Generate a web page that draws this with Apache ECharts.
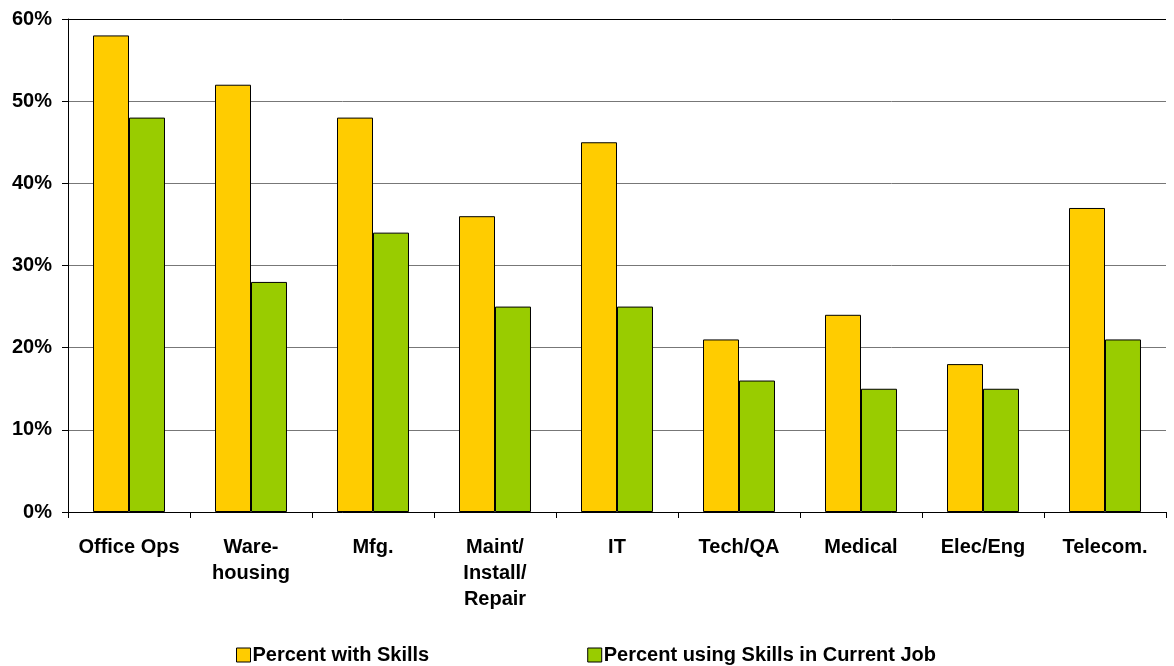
<!DOCTYPE html>
<html>
<head>
<meta charset="utf-8">
<script src="https://cdn.jsdelivr.net/npm/echarts@6/dist/echarts.min.js"></script>
<style>html,body{margin:0;padding:0;background:#fff;}#c{width:1174px;height:666px;}</style>
</head>
<body>
<div id="c"></div>
<script>
const categories = ['Office Ops', 'Ware-\nhousing', 'Mfg.', 'Maint/\nInstall/\nRepair', 'IT', 'Tech/QA', 'Medical', 'Elec/Eng', 'Telecom.'];
const percentWithSkills = [58, 52, 48, 36, 45, 21, 24, 18, 37];
const percentUsingSkills = [48, 28, 34, 25, 25, 16, 15, 15, 21];
const seriesNames = ['Percent with Skills', 'Percent using Skills in Current Job'];
const yTicks = [0, 10, 20, 30, 40, 50, 60];

const font = 'Liberation Sans, Arial, sans-serif';
const chart = echarts.init(document.getElementById('c'), null, {renderer: 'canvas'});
chart.setOption({
  animation: false,
  backgroundColor: '#fff',
  grid: {left: 68, right: 8, top: 19, bottom: 154, containLabel: false},
  legend: {
    left: 231, top: 640,
    itemWidth: 14, itemHeight: 14, itemGap: 158,
    icon: 'rect',
    itemStyle: {borderColor: '#000', borderWidth: 1},
    textStyle: {fontFamily: font, fontWeight: 'bold', fontSize: 20, color: '#000', padding: [0,0,0,-3]},
    data: seriesNames
  },
  xAxis: {
    type: 'category',
    data: categories,
    axisLine: {lineStyle: {color: '#000', width: 1}},
    axisTick: {show: true, length: 6, lineStyle: {color: '#000'}},
    axisLabel: {fontFamily: font, fontWeight: 'bold', fontSize: 20, color: '#000', lineHeight: 26, margin: 22, interval: 0}
  },
  yAxis: {
    type: 'value',
    min: yTicks[0], max: yTicks[yTicks.length - 1], interval: 10,
    axisLine: {show: true, lineStyle: {color: '#000', width: 1}},
    axisTick: {show: true, length: 6, lineStyle: {color: '#000'}},
    axisLabel: {fontFamily: font, fontWeight: 'bold', fontSize: 20, color: '#000', margin: 16, formatter: v => v + '%'},
    splitLine: {show: true, lineStyle: {color: ['#777', '#777', '#777', '#777', '#777', '#777', '#000'], width: 1}}
  },
  series: [
    {
      name: seriesNames[0], type: 'bar', data: percentWithSkills,
      barCategoryGap: '41%', barGap: '0%',
      itemStyle: {color: '#FFCC00', borderColor: '#000', borderWidth: 1}
    },
    {
      name: seriesNames[1], type: 'bar', data: percentUsingSkills,
      barCategoryGap: '41%', barGap: '0%',
      itemStyle: {color: '#99CC00', borderColor: '#000', borderWidth: 1}
    }
  ]
});
</script>
</body>
</html>
